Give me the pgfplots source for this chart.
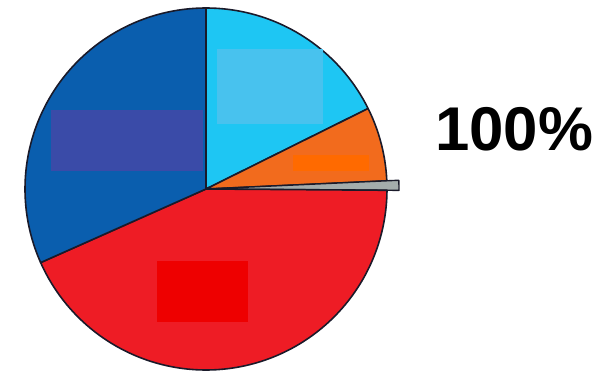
\documentclass[border=0pt]{standalone}
\usepackage{pgfplots}
\pgfplotsset{compat=1.18}
\usepackage{fontspec}
\setmainfont{Liberation Sans}
\definecolor{lb}{HTML}{1EC6F3}
\definecolor{lbr}{HTML}{48C2EE}
\definecolor{orr}{HTML}{F26B1D}
\definecolor{orrr}{HTML}{FF6A00}
\definecolor{gr}{HTML}{A4ACAC}
\definecolor{rd}{HTML}{EE1C25}
\definecolor{rdr}{HTML}{EE0000}
\definecolor{db}{HTML}{0A5EAE}
\definecolor{dbr}{HTML}{3A4BA8}
\definecolor{edge}{HTML}{1A1A2A}
\begin{document}
\begin{tikzpicture}
\begin{axis}[
  x=1bp, y=1bp, xmin=0, xmax=610, ymin=0, ymax=373,
  hide axis, clip=false, scale only axis,
]
% pie slices: angle boundaries (degrees)
\addplot[fill=lb, draw=edge, line width=1.6pt, line join=round, domain=26.4:90, samples=60, variable=\t]
  ({206+181*cos(\t)}, {184+181*sin(\t)}) -- (axis cs:206,184) -- cycle;
\addplot[fill=orr, draw=edge, line width=1.6pt, line join=round, domain=2.6:26.4, samples=30, variable=\t]
  ({206+181*cos(\t)}, {184+181*sin(\t)}) -- (axis cs:206,184) -- cycle;
\addplot[fill=gr, draw=edge, line width=1.4pt, line join=round, domain=-0.4:2.6, samples=6, variable=\t]
  ({206+193*cos(\t)}, {184+193*sin(\t)}) -- (axis cs:206,184) -- cycle;
\addplot[fill=rd, draw=edge, line width=1.6pt, line join=round, domain=204:359.6, samples=120, variable=\t]
  ({206+181*cos(\t)}, {184+181*sin(\t)}) -- (axis cs:206,184) -- cycle;
\addplot[fill=db, draw=edge, line width=1.6pt, line join=round, domain=90:204, samples=90, variable=\t]
  ({206+181*cos(\t)}, {184+181*sin(\t)}) -- (axis cs:206,184) -- cycle;
% label boxes
\addplot[fill=lbr, draw=none] coordinates {(217,249) (323,249) (323,324) (217,324)} -- cycle;
\addplot[fill=dbr, draw=none] coordinates {(51,202) (203,202) (203,263) (51,263)} -- cycle;
\addplot[fill=orrr, draw=none] coordinates {(293,202) (369,202) (369,218) (293,218)} -- cycle;
\addplot[fill=rdr, draw=none] coordinates {(157,51) (248,51) (248,112) (157,112)} -- cycle;
\addplot[draw=none, mark=none] coordinates {(0,0) (610,373)};
\node at (axis cs:514,244) {\fontsize{62}{62}\selectfont\bfseries 100\%};
\end{axis}
\end{tikzpicture}
\end{document}
